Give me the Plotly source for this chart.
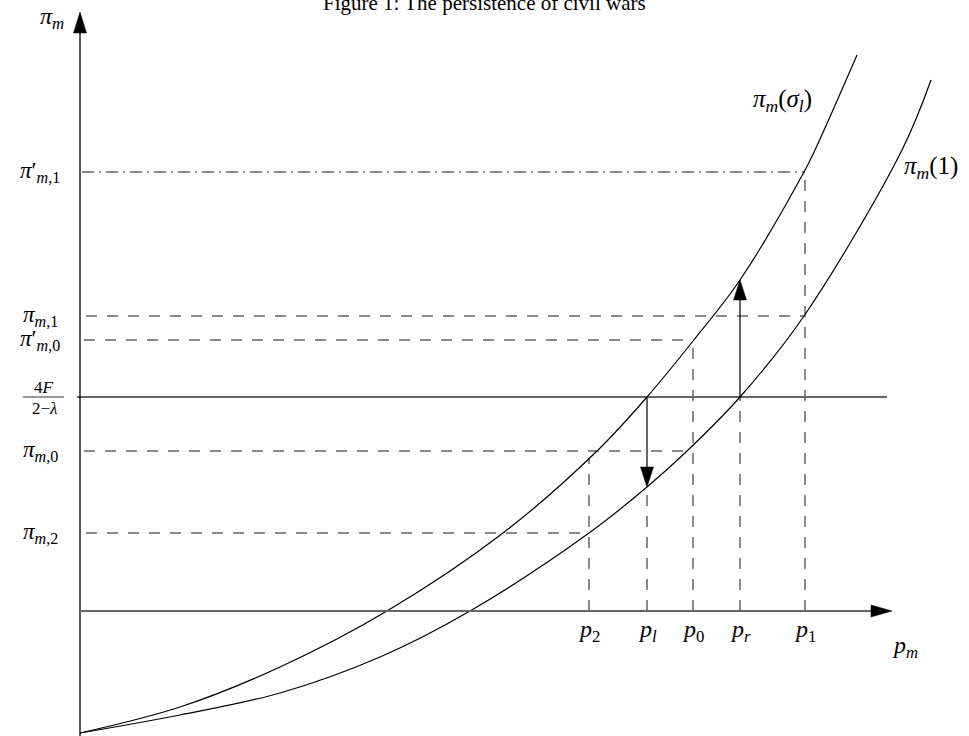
import numpy as np
import plotly.graph_objects as go

# ---- data (arbitrary schematic units) ----
sigma_x = [0.00, 1.00, 2.00, 3.07, 4.23, 5.17, 5.67, 6.13, 6.60, 7.24, 7.35, 7.77]
sigma_y = [-1.22, -0.96, -0.56, 0.00, 0.78, 1.60, 2.14, 2.70, 3.31, 4.39, 4.61, 5.56]
one_x = [0.00, 1.00, 2.00, 3.00, 3.90, 5.09, 5.67, 6.07, 6.60, 7.24, 8.22, 8.51]
one_y = [-1.22, -1.04, -0.82, -0.46, 0.00, 0.78, 1.24, 1.60, 2.14, 2.95, 4.61, 5.31]

p_names = ["p2", "pl", "p0", "pr", "p1"]
p_vals = [5.09, 5.67, 6.13, 6.60, 7.25]
p_text = ["<i>p</i><sub>2</sub>", "<i>p<sub>l</sub></i>", "<i>p</i><sub>0</sub>",
          "<i>p<sub>r</sub></i>", "<i>p</i><sub>1</sub>"]

pi_names = ["pi_m1p", "pi_m1", "pi_m0p", "thr", "pi_m0", "pi_m2"]
pi_vals = [4.39, 2.95, 2.71, 2.14, 1.60, 0.78]
pi_text = ["<i>π</i>′<sub><i>m</i>,1</sub>", "<i>π</i><sub><i>m</i>,1</sub>",
           "<i>π</i>′<sub><i>m</i>,0</sub>", None,
           "<i>π</i><sub><i>m</i>,0</sub>", "<i>π</i><sub><i>m</i>,2</sub>"]

P = dict(zip(p_names, p_vals))
L = dict(zip(pi_names, pi_vals))

x_axis_end = 8.12
thr_line_end = 8.07
y_axis_top = 5.99
y_axis_bottom = -1.25

GREY = "#666666"
FONT = "Liberation Serif"

fig = go.Figure()


def seg(x0, y0, x1, y1, color=GREY, width=1.5, dash=None):
    fig.add_trace(go.Scatter(x=[x0, x1], y=[y0, y1], mode="lines",
                             line=dict(color=color, width=width, dash=dash),
                             hoverinfo="skip", showlegend=False))


def head(xt, yt, dx, dy, length=0.20, half=0.065, color="black"):
    # triangle with tip at (xt, yt), pointing along (dx, dy)
    bx, by = xt - dx * length, yt - dy * length
    px, py = -dy * half, dx * half
    fig.add_trace(go.Scatter(x=[xt, bx + px, bx - px, xt], y=[yt, by + py, by - py, yt],
                             mode="lines", fill="toself", fillcolor=color,
                             line=dict(color=color, width=0.5),
                             hoverinfo="skip", showlegend=False))


DASH = "11px,10px"
DASHDOT = "12px,5px,2px,5px"

# horizontal guide lines
seg(0.02, L["pi_m1p"], P["p1"], L["pi_m1p"], dash=DASHDOT)
seg(0.06, L["pi_m1"], P["p1"], L["pi_m1"], dash=DASH)
seg(0.04, L["pi_m0p"], P["p0"], L["pi_m0p"], dash=DASH)
seg(0.04, L["pi_m0"], P["p0"], L["pi_m0"], dash=DASH)
seg(0.06, L["pi_m2"], P["p2"], L["pi_m2"], dash=DASH)
seg(-0.03, L["thr"], thr_line_end, L["thr"], width=1.8)

# vertical guide lines
sig_p2 = float(np.interp(P["p2"], sigma_x, sigma_y))
one_pl = float(np.interp(P["pl"], one_x, one_y))
sig_pr = float(np.interp(P["pr"], sigma_x, sigma_y))
seg(P["p2"], 0, P["p2"], sig_p2, dash=DASH)
seg(P["pl"], 0, P["pl"], one_pl, dash=DASH)
seg(P["p0"], 0, P["p0"], L["pi_m0p"], dash=DASH)
seg(P["pr"], 0, P["pr"], L["thr"], dash=DASH)
seg(P["p1"], 0, P["p1"], L["pi_m1p"], dash=DASH)

# curves
fig.add_trace(go.Scatter(x=sigma_x, y=sigma_y, mode="lines", line_shape="spline",
                         line=dict(color="black", width=1.2), hoverinfo="skip", showlegend=False))
fig.add_trace(go.Scatter(x=one_x, y=one_y, mode="lines", line_shape="spline",
                         line=dict(color="black", width=1.2), hoverinfo="skip", showlegend=False))

# arrows between curves
seg(P["pl"], L["thr"], P["pl"], one_pl + 0.15, color="black", width=1.2)
head(P["pl"], one_pl, 0, -1)
seg(P["pr"], L["thr"], P["pr"], sig_pr - 0.15, color="black", width=1.2)
head(P["pr"], sig_pr, 0, 1)

# axes
seg(0, y_axis_bottom, 0, y_axis_top - 0.15, color="black", width=1.3)
head(0, y_axis_top, 0, 1, length=0.21, half=0.065)
seg(0, 0, x_axis_end - 0.15, 0, color=GREY, width=1.8)
head(x_axis_end, 0, 1, 0, length=0.21, half=0.06)

ann = []


def txt(x, y, t, size=23, xanchor="center", yanchor="middle", xref="x", yref="y"):
    ann.append(dict(x=x, y=y, text=t, showarrow=False, xanchor=xanchor, yanchor=yanchor,
                    xref=xref, yref=yref, font=dict(family=FONT, size=size, color="black")))


for name, v, t in zip(pi_names, pi_vals, pi_text):
    if t:
        txt(-0.40, v, t)
# fraction 4F / (2 - lambda)
txt(-0.36, L["thr"] + 0.10, "4<i>F</i>", size=17)
txt(-0.36, L["thr"] - 0.11, "2−<i>λ</i>", size=17)
fig.add_shape(type="line", x0=-0.57, x1=-0.16, y0=L["thr"], y1=L["thr"],
              line=dict(color="black", width=0.8))

for v, t in zip(p_vals, p_text):
    txt(v, -0.20, t, size=24)
txt(8.25, -0.36, "<i>p<sub>m</sub></i>", size=24)
txt(-0.28, 5.93, "<i>π<sub>m</sub></i>", size=24)
txt(7.02, 5.11, "<i>π<sub>m</sub></i>(<i>σ<sub>l</sub></i>)", size=25)
txt(8.22, 4.44, "<i>π<sub>m</sub></i>(1)", size=25, xanchor="left")

# title (partly cut off at the top edge, as in the reference)
txt(0.50, 1 - 17 / 736, "Figure 1: The persistence of civil wars", size=21,
    xref="paper", yref="paper", yanchor="bottom")

fig.update_layout(
    width=969, height=736, margin=dict(l=0, r=0, t=0, b=0),
    paper_bgcolor="white", plot_bgcolor="white", annotations=ann, showlegend=False,
    xaxis=dict(range=[-0.80, 8.89], visible=False, fixedrange=True),
    yaxis=dict(range=[-1.25, 6.11], visible=False, fixedrange=True),
)

fig.write_html("out.html", config={"displayModeBar": False},
               post_script="document.body.style.margin='0px';")
